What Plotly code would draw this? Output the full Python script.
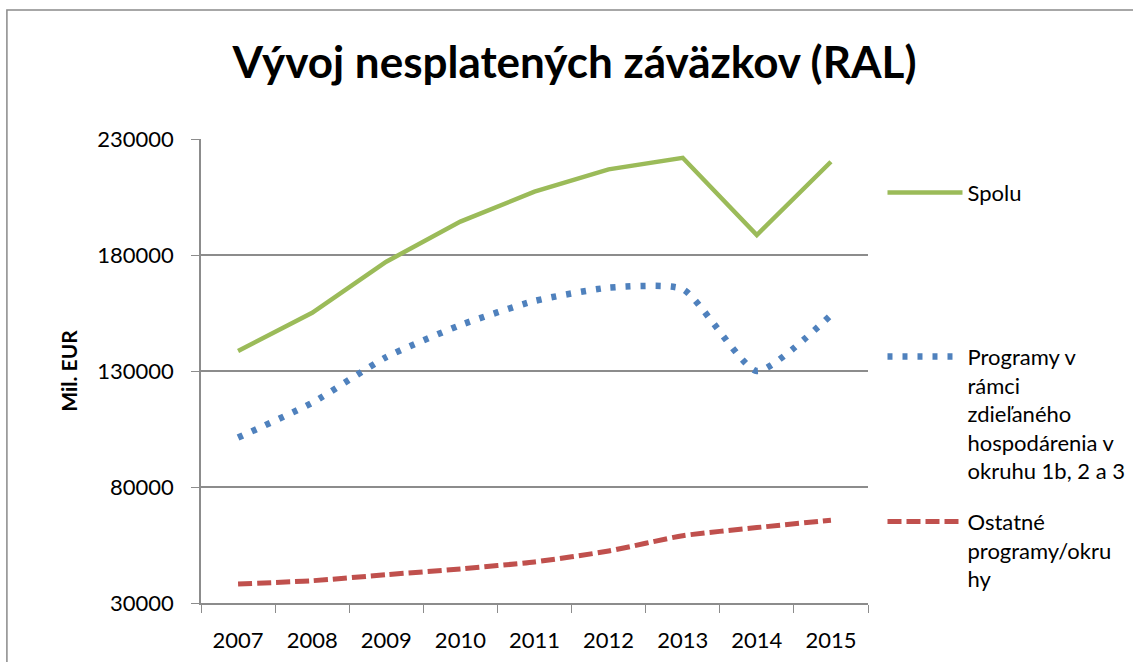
import plotly.graph_objects as go

years = ["2007", "2008", "2009", "2010", "2011", "2012", "2013", "2014", "2015"]
spolu = [138600, 155100, 177100, 194400, 207300, 216900, 221900, 188600, 220200]
programy = [101300, 116300, 136000, 149800, 160200, 165900, 165300, 130000, 154100]
ostatne = [38200, 39600, 42200, 44700, 47700, 52400, 59000, 62500, 65700]

name_spolu = "Spolu"
name_prog = "Programy v<br>rámci<br>zdieľaného<br>hospodárenia v<br>okruhu 1b, 2 a 3"
name_ost = "Ostatné<br>programy/okru<br>hy"
title_text = "Vývoj nesplatených záväzkov (RAL)"
y_title = "Mil. EUR"
y_ticks = [30000, 80000, 130000, 180000, 230000]
y_ticktext = ["30000", "80000", "130000", "180000", "230000"]

FONT = "Lato, 'Open Sans', sans-serif"
GRID = "#8c8c8c"

fig = go.Figure()
fig.add_trace(go.Scatter(x=years, y=spolu, name=name_spolu, mode="lines",
                         line=dict(color="#9BBB59", width=4.5), legend="legend"))
fig.add_trace(go.Scatter(x=years, y=programy, name=name_prog, mode="lines",
                         line=dict(color="#4F81BD", width=6.5, dash="5px,10px",
                                   shape="spline", smoothing=0.55), legend="legend2"))
fig.add_trace(go.Scatter(x=years, y=ostatne, name=name_ost, mode="lines",
                         line=dict(color="#C0504D", width=5, dash="14px,5px",
                                   shape="spline", smoothing=0.6), legend="legend3"))

leg_common = dict(x=0.7789, xref="container", xanchor="left", yanchor="middle",
                  valign="top",
                  font=dict(family=FONT, size=22, color="#000000"),
                  bgcolor="rgba(0,0,0,0)", itemwidth=75, tracegroupgap=0)

fig.update_layout(
    width=1133, height=662,
    margin=dict(l=201, r=265, t=139, b=59, autoexpand=False),
    paper_bgcolor="white", plot_bgcolor="white",
    font=dict(family=FONT, color="#000000"),
    title=dict(text="<b>" + title_text + "</b>", x=0.507, xanchor="center",
               xref="container", y=0.906, yanchor="middle", yref="container",
               font=dict(family=FONT, size=44, color="#000000")),
    xaxis=dict(type="category", range=[-0.5, 8.5], showgrid=False,
               showline=True, linecolor=GRID, linewidth=1.5,
               ticks="outside", tickson="boundaries", ticklen=8, tickcolor=GRID,
               ticklabelstandoff=17,
               tickfont=dict(family=FONT, size=22, color="#000000")),
    yaxis=dict(range=[30000, 230000], tickvals=y_ticks, ticktext=y_ticktext,
               showgrid=True, gridcolor=GRID, gridwidth=1.5, zeroline=False,
               showline=True, linecolor=GRID, linewidth=1.5,
               ticks="outside", ticklen=8, tickcolor=GRID,
               tickfont=dict(family=FONT, size=22, color="#000000"),
               ticklabelstandoff=13,
               title=dict(text="<b>" + y_title + "</b>", standoff=14,
                          font=dict(family=FONT, size=21, color="#000000"))),
    legend=dict(y=0.884, **leg_common),
    legend2=dict(y=0.408, **leg_common),
    legend3=dict(y=0.114, **leg_common),
    showlegend=True,
)

# outer chart border
fig.add_shape(type="rect", xref="paper", yref="paper",
              x0=-0.291, x1=1.41, y0=-0.2, y1=1.278,
              line=dict(color="#8a8a8a", width=1.5), fillcolor="rgba(0,0,0,0)",
              layer="below")

fig.write_html("out.html", config={"displayModeBar": False},
               post_script="document.body.style.margin='0';")
